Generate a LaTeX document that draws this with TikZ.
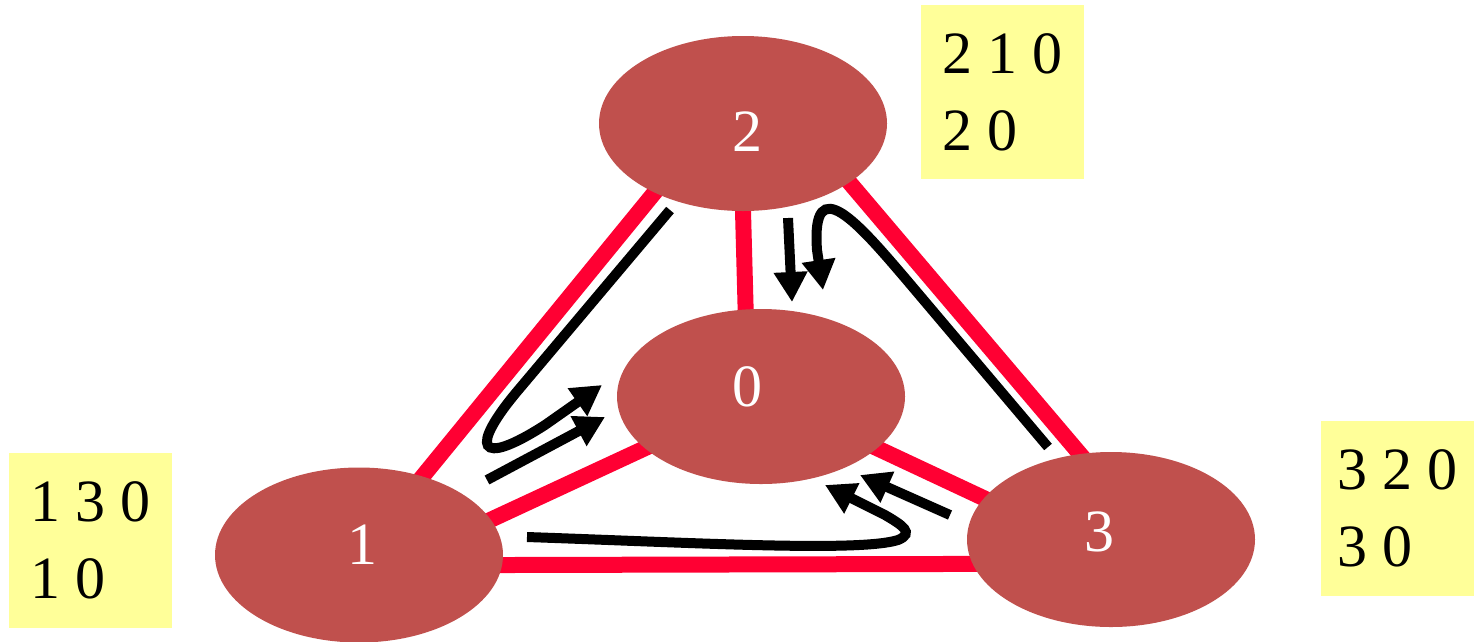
\documentclass[tikz,border=0pt]{standalone}
\usepackage{fontspec}
\setmainfont{Liberation Serif}
\usetikzlibrary{arrows.meta,shapes.geometric}
\definecolor{nodefill}{HTML}{C0504D}
\definecolor{edgered}{HTML}{FF0033}
\definecolor{boxyellow}{HTML}{FFFF99}
\pgfdeclarelayer{background}
\pgfsetlayers{background,main}
\begin{document}
\begin{tikzpicture}[x=1pt,y=-1pt,
  ell/.style={ellipse, fill=nodefill, minimum width=288pt, minimum height=175pt, inner sep=0pt},
  lbl/.style={text=white, font=\fontsize{60}{72}\selectfont, inner sep=0pt},
  ybox/.style={rectangle, fill=boxyellow, anchor=north west, align=left, inner xsep=0pt, inner ysep=0pt, font=\fontsize{60}{77}\selectfont, text=black},
  redline/.style={draw=edgered, line width=16pt, shorten <=-14pt, shorten >=-14pt},
  blk/.style={draw=black, line width=10pt, -{Triangle[length=30pt,width=32pt]}}
]
\useasboundingbox (0,0) rectangle (1474,641);

% nodes
\node[ell] (n2) at (743,123.5) {};
\node[ell] (n0) at (761,396.5) {};
\node[ell] (n1) at (359,555) {};
\node[ell] (n3) at (1111,539.5) {};
\node[lbl] (t2) at (747,132) {2};
\node[lbl] (t0) at (747,387) {0};
\node[lbl] (t1) at (362,545) {1};
\node[lbl] (t3) at (1099,532) {3};

% red edges
\begin{pgfonlayer}{background}
\draw[redline] (n2.218) -- (n1.51);
\draw[redline] (n2.south) -- (n0.100);
\draw[redline] (n2.331) -- (n3.110);
\draw[redline] (n1.15) -- (n0.204);
\draw[redline] (n1.356) -- (n3.190);
\draw[redline] (n0.336) -- (n3.162);
\end{pgfonlayer}

% yellow boxes
\node[ybox, minimum width=163pt, minimum height=174pt] (b2) at (921,5) {2 1 0\\2 0};
\node[ybox, minimum width=163pt, minimum height=175pt] (b1) at (9,453) {1 3 0\\1 0};
\node[ybox, minimum width=153pt, minimum height=175pt] (b3) at (1321,421) {3 2 0\\3 0};

% black arrows
\coordinate (aS) at (670,210);
\coordinate (aE) at (602,385);
\coordinate (bS) at (487,480);
\coordinate (bE) at (605,417);
\coordinate (cS) at (788,218);
\coordinate (cE) at (792,302);
\coordinate (dS) at (1048,447);
\coordinate (dE) at (823,290);
\coordinate (eS) at (950,515);
\coordinate (eE) at (860,475);
\coordinate (fS) at (527,537);
\coordinate (fE) at (825,485);

\draw[blk] (aS) -- (520,388) .. controls (468,449) and (478,468) .. (545,425) -- (aE);
\draw[blk] (bS) -- (bE);
\draw[blk] (cS) -- (cE);
\draw[blk] (dS) -- (905,278) .. controls (859.5,224.8) and (811,168) .. (817,250) -- (dE);
\draw[blk] (eS) -- (eE);
\draw[blk] (fS) .. controls (700,543) and (860,552) .. (898,540) .. controls (915,533) and (902,525) .. (885,515) -- (fE);
\end{tikzpicture}
\end{document}
